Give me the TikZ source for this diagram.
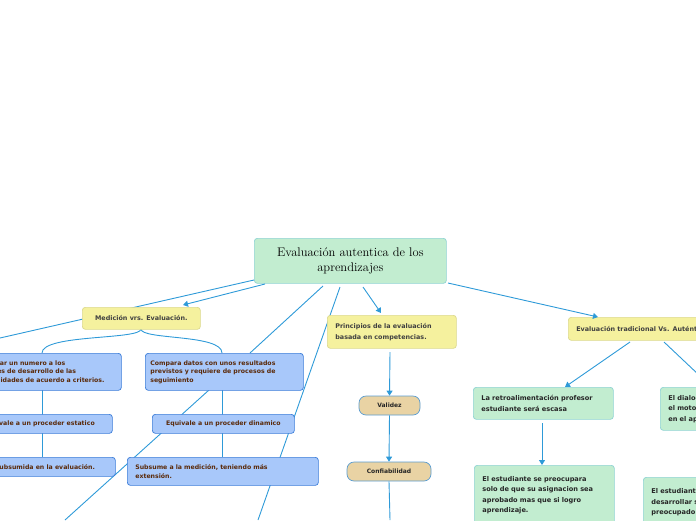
\documentclass[tikz,border=0pt]{standalone}
\usepackage{fontspec}
\setsansfont{DejaVu Sans}
\usetikzlibrary{arrows.meta}
\definecolor{lnc}{HTML}{2E9AD8}
\definecolor{grn}{HTML}{C2EDD0}
\definecolor{grnb}{HTML}{8FD3D3}
\definecolor{yel}{HTML}{F5F19E}
\definecolor{blu}{HTML}{A8C8FA}
\definecolor{blub}{HTML}{3A7CD8}
\definecolor{tan}{HTML}{E9D3A4}
\definecolor{tanb}{HTML}{5A9CD0}
\definecolor{brn}{HTML}{5A2A0A}
\tikzset{
 bx/.style={draw, rounded corners=3pt, line width=0.7pt, inner sep=0pt, anchor=north west, align=left},
 gb/.style={bx, fill=grn, draw=grnb, text=black!85, font=\sffamily\bfseries\fontsize{6.6}{10.5}\selectfont},
 yb/.style={bx, fill=yel, draw=yel!90!black, text=black!75, font=\sffamily\bfseries\fontsize{6.4}{11}\selectfont},
 bb/.style={bx, fill=blu, draw=blub, text=brn, font=\sffamily\bfseries\fontsize{6.2}{8.5}\selectfont},
 tb/.style={draw=tanb, fill=tan, rounded corners=7pt, line width=0.7pt, font=\sffamily\bfseries\fontsize{6}{8}\selectfont, text=black!85, inner sep=0pt},
 ln/.style={draw=lnc, line width=0.9pt},
 ar/.style={ln, -{Triangle[length=5pt,width=6pt]}},
}
\begin{document}
\begin{tikzpicture}[x=1pt,y=-1pt]
\useasboundingbox (0,0) rectangle (696,520);
\clip (0,0) rectangle (696,520);
% background lines
\draw[ln] (254,280) -- (0,338);
\draw[ln] (209,390) -- (65,520);
\draw[ln] (340,287) -- (258,520);
\draw[ln] (323,286) -- (250,353);
\draw[ln] (42,390) -- (42,457);
\draw[ln] (222,390) -- (222,457);
\draw[ln] (141,329) .. controls (141,340) and (42,334) .. (42,353);
\draw[ln] (141,329) .. controls (141,340) and (222,334) .. (222,353);
% main
\node[bx, fill=grn, draw=grnb, minimum width=192pt, minimum height=45pt, align=center, font=\fontsize{12.5}{15}\selectfont, anchor=north west] (main) at (254,238) {Evaluación autentica de los\\aprendizajes};
% medicion
\node[yb, minimum width=118pt, minimum height=22pt, align=center] (med) at (82,307) {Medición vrs. Evaluación.};
\node[bb, minimum width=143pt, minimum height=37pt, text width=137pt, inner xsep=4pt] (asig) at (-24,353) {Asignar un numero a los\\niveles de desarrollo de las\\capacidades de acuerdo a criterios.};
\node[bb, minimum width=156pt, minimum height=37pt, text width=148pt, inner xsep=5pt] (comp) at (145,353) {Compara datos con unos resultados previstos y requiere de procesos de seguimiento};
\node[bb, minimum width=146pt, minimum height=19pt, align=center] (est) at (-34,414) {Equivale a un proceder estatico};
\node[bb, minimum width=150pt, minimum height=19pt, align=center] (sub1) at (-35,457) {Es subsumida en la evaluación.};
\node[bb, minimum width=142pt, minimum height=19pt, align=center] (din) at (152,414) {Equivale a un proceder dinamico};
\node[bb, minimum width=191pt, minimum height=28pt, text width=175pt, inner xsep=8pt] (sub2) at (127,457) {Subsume a la medición, teniendo más\\extensión.};
% principios
\node[yb, minimum width=125pt, minimum height=33pt, text width=113pt, inner xsep=8pt] (prin) at (327,315) {Principios de la evaluación\\basada en competencias.};
\node[tb, minimum width=61pt, minimum height=19pt] (val) at (389.5,405.5) {Validez};
\node[tb, minimum width=84pt, minimum height=19pt] (conf) at (389,471.5) {Confiabilidad};
% tradicional
\node[yb, minimum width=150pt, minimum height=23pt, text width=142pt, inner xsep=8pt] (trad) at (568,317) {Evaluación tradicional Vs. Auténtica};
\node[gb, minimum width=136pt, minimum height=32pt, text width=124pt, inner xsep=8pt, inner ysep=4pt] (retro) at (473,387) {La retroalimentación profesor\\estudiante será escasa};
\node[gb, minimum width=134pt, minimum height=60pt, text width=124pt, inner xsep=8pt, inner ysep=6pt] (preo) at (474,465) {El estudiante se preocupara\\solo de que su asignacion sea\\aprobado mas que si logro\\aprendizaje.};
\node[gb, minimum width=120pt, minimum height=43pt, text width=110pt, inner xsep=8pt, inner ysep=5pt] (dial) at (660,387) {El dialogo será\\el motor principal\\en el aprendizaje};
\node[gb, minimum width=120pt, minimum height=50pt, text width=110pt, inner xsep=8pt, inner ysep=5pt] (est2) at (643,477) {El estudiante se preocupa\\desarrollar sus capacidades\\preocupado};
% arrows
\draw[ar] (265,284) -- (183,305);
\draw[ar] (363,287) -- (381,313);
\draw[ar] (390,352) -- (val.north);
\draw[ar] (val.south) -- (conf.north);
\draw[ln] (conf.south) -- (390,520);
\draw[ar] (448,283) -- (598,317);
\draw[ar] (630,342) -- (565,387);
\draw[ar] (542,423) -- (542,465);
\draw[ln] (664,342) -- (700,376);
\end{tikzpicture}
\end{document}
